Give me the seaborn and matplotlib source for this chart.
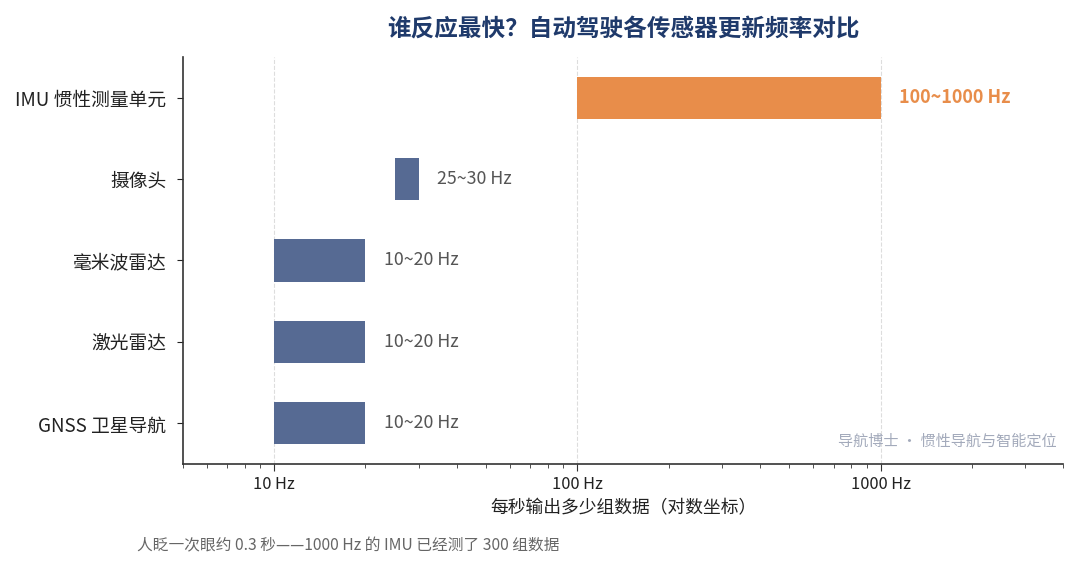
import matplotlib
matplotlib.use("Agg")
import matplotlib.pyplot as plt
import matplotlib.ticker as mticker
import seaborn as sns
import pandas as pd

sensors = ["IMU 惯性测量单元", "摄像头", "毫米波雷达", "激光雷达", "GNSS 卫星导航"]
low_hz = [100, 25, 10, 10, 10]
high_hz = [1000, 30, 20, 20, 20]
labels = ["100~1000 Hz", "25~30 Hz", "10~20 Hz", "10~20 Hz", "10~20 Hz"]
xticks = [10, 100, 1000]
xtick_labels = ["10 Hz", "100 Hz", "1000 Hz"]

sns.set_style("ticks")
plt.rcParams['font.family'] = ['Noto Sans CJK SC', 'DejaVu Sans']

blue = "#566A93"
orange = "#E88D4A"

df = pd.DataFrame({"sensor": sensors, "low": low_hz, "high": high_hz, "label": labels})
df["color"] = [orange if s.startswith("IMU") else blue for s in df["sensor"]]

fig = plt.figure(figsize=(10.8, 5.62), dpi=100)
ax = fig.add_axes([0.1694, 0.1744, 0.8149, 0.7242])

ax.barh(df["sensor"], df["high"] - df["low"], left=df["low"], height=0.52,
        color=df["color"], edgecolor="none", zorder=3)

for i, row in df.iterrows():
    is_imu = row["sensor"].startswith("IMU")
    ax.text(row["high"] * 1.15, i, row["label"], va="center", ha="left",
            fontsize=13 if is_imu else 12.8,
            fontweight="bold" if is_imu else "normal",
            color=orange if is_imu else "#555555")

ax.set_xscale("log")
ax.set_xlim(5, 4000)
ax.set_ylim(4.5, -0.5)
ax.set_xticks(xticks)
ax.set_xticklabels(xtick_labels, fontsize=11.8, color="#222222")
ax.xaxis.set_minor_locator(mticker.LogLocator(base=10, subs=range(2, 10)))
ax.xaxis.set_minor_formatter(mticker.NullFormatter())
ax.tick_params(axis="y", labelsize=13.5, colors="#222222", length=4, pad=8)
ax.tick_params(axis="x", which="major", length=5, color="#333333", pad=4)
ax.tick_params(axis="x", which="minor", length=3, color="#333333")
ax.grid(axis="x", which="major", linestyle="--", color="#dddddd", linewidth=0.8, zorder=0)
sns.despine(ax=ax)
for sp in ["left", "bottom"]:
    ax.spines[sp].set_color("#333333")
    ax.spines[sp].set_linewidth(1.2)

ax.set_xlabel("每秒输出多少组数据（对数坐标）", fontsize=12.8, color="#222222", labelpad=4)
ax.set_ylabel("")
ax.set_title("谁反应最快？自动驾驶各传感器更新频率对比", fontsize=17, fontweight="bold",
             color="#1F3A6B", pad=15)

ax.text(0.993, 0.055, "导航博士 · 惯性导航与智能定位", transform=ax.transAxes,
        ha="right", va="center", fontsize=10.9, color="#A3AABB")
fig.text(0.127, 0.028, "人眨一次眼约 0.3 秒——1000 Hz 的 IMU 已经测了 300 组数据",
         ha="left", va="center", fontsize=11.3, color="#666666")

fig.savefig("out.png", dpi=100)
